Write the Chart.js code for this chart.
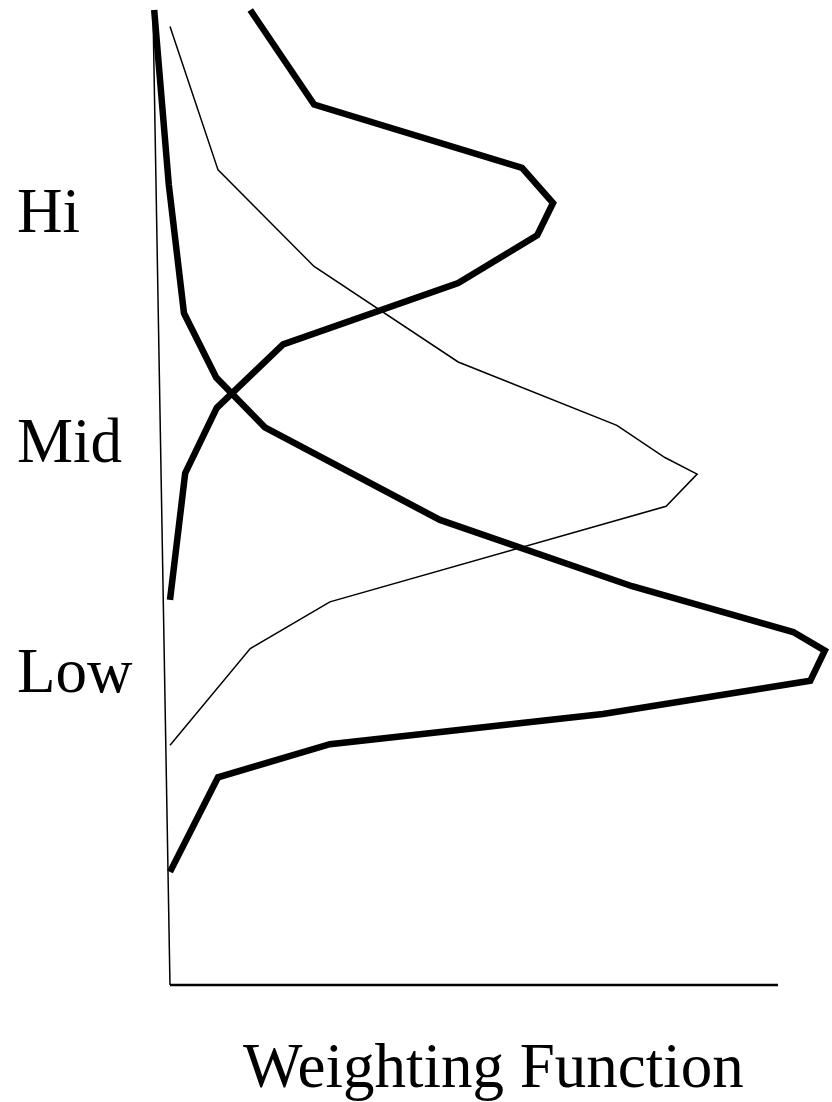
<!DOCTYPE html>
<html>
<head>
<meta charset="utf-8">
<script src="https://cdn.jsdelivr.net/npm/chart.js@4/dist/chart.umd.min.js"></script>
<style>
  html, body { margin: 0; padding: 0; background: #fff; }
  #wrap { width: 832px; height: 1102px; position: relative; }
</style>
</head>
<body>
<div id="wrap"><canvas id="chart"></canvas></div>
<script>
// Height levels (y) and the weighting value at each level (x) for each function.
const LEVELS   = ["Hi", "Mid", "Low"];
const LEVEL_Y  = [77.2, 53.6, 30.1];   // where each label sits on the height scale
const AXIS_TITLE = "Weighting Function";

const HI_X  = [13.2, 23.7, 57.9, 63.0, 60.4, 47.4, 18.6, 7.7, 2.5, 0];
const HI_Y  = [100, 90.3, 83.8, 80.2, 76.9, 72.0, 65.7, 59.2, 52.5, 39.5];

const MID_X = [0, 7.9, 23.7, 47.4, 73.5, 81.4, 86.7, 81.6, 26.3, 13.2, 0];
const MID_Y = [98.3, 83.6, 73.7, 63.9, 57.4, 54.1, 52.4, 49.1, 39.3, 34.5, 24.6];

const LOW_X = [-2.6, -0.2, 2.3, 7.6, 15.6, 44.4, 76.0, 102.5, 107.7, 105.3, 71.2, 26.3, 7.9, 0];
const LOW_Y = [100, 82.1, 68.9, 62.3, 57.2, 47.7, 40.9, 36.2, 34.3, 31.2, 27.8, 24.7, 21.3, 11.6];

// The left axis leans a little: its top sits left of zero.
const AXIS_TOP_X = -2.8;

const toPoints = (xs, ys) => xs.map((x, i) => ({ x, y: ys[i] }));

const line = (label, xs, ys, width) => ({
  label,
  data: toPoints(xs, ys),
  showLine: true,
  borderColor: "#000",
  borderWidth: width,
  pointRadius: 0,
  tension: 0,
  clip: false
});

const axesAndText = {
  id: "axesAndText",
  beforeDatasetsDraw(chart) {
    const { ctx, scales: { x, y } } = chart;
    ctx.save();
    ctx.strokeStyle = "#000";
    ctx.lineWidth = 1.5;
    ctx.beginPath();
    ctx.moveTo(x.getPixelForValue(AXIS_TOP_X), y.getPixelForValue(100));
    ctx.lineTo(x.getPixelForValue(0), y.getPixelForValue(0));
    ctx.stroke();
    ctx.lineWidth = 2.5;
    ctx.beginPath();
    ctx.moveTo(x.getPixelForValue(0), y.getPixelForValue(0));
    ctx.lineTo(x.getPixelForValue(100), y.getPixelForValue(0));
    ctx.stroke();
    ctx.restore();
  },
  afterDraw(chart) {
    const { ctx, scales: { y } } = chart;
    ctx.save();
    ctx.fillStyle = "#000";
    ctx.font = "63px 'Liberation Serif', 'Times New Roman', serif";
    ctx.textAlign = "left";
    ctx.textBaseline = "alphabetic";
    LEVELS.forEach((t, i) => ctx.fillText(t, 17, y.getPixelForValue(LEVEL_Y[i])));
    ctx.fillText(AXIS_TITLE, 243, 1087);
    ctx.restore();
  }
};

new Chart(document.getElementById("chart"), {
  type: "scatter",
  data: {
    datasets: [
      line("Hi", HI_X, HI_Y, 6.5),
      line("Mid", MID_X, MID_Y, 1.5),
      line("Low", LOW_X, LOW_Y, 6.5)
    ]
  },
  options: {
    responsive: true,
    maintainAspectRatio: false,
    animation: false,
    layout: { padding: { left: 170, right: 54, top: 10, bottom: 117 } },
    plugins: { legend: { display: false }, tooltip: { enabled: false } },
    scales: {
      x: { type: "linear", display: false, min: 0, max: 100 },
      y: { type: "linear", display: false, min: 0, max: 100 }
    }
  },
  plugins: [axesAndText]
});
</script>
</body>
</html>
